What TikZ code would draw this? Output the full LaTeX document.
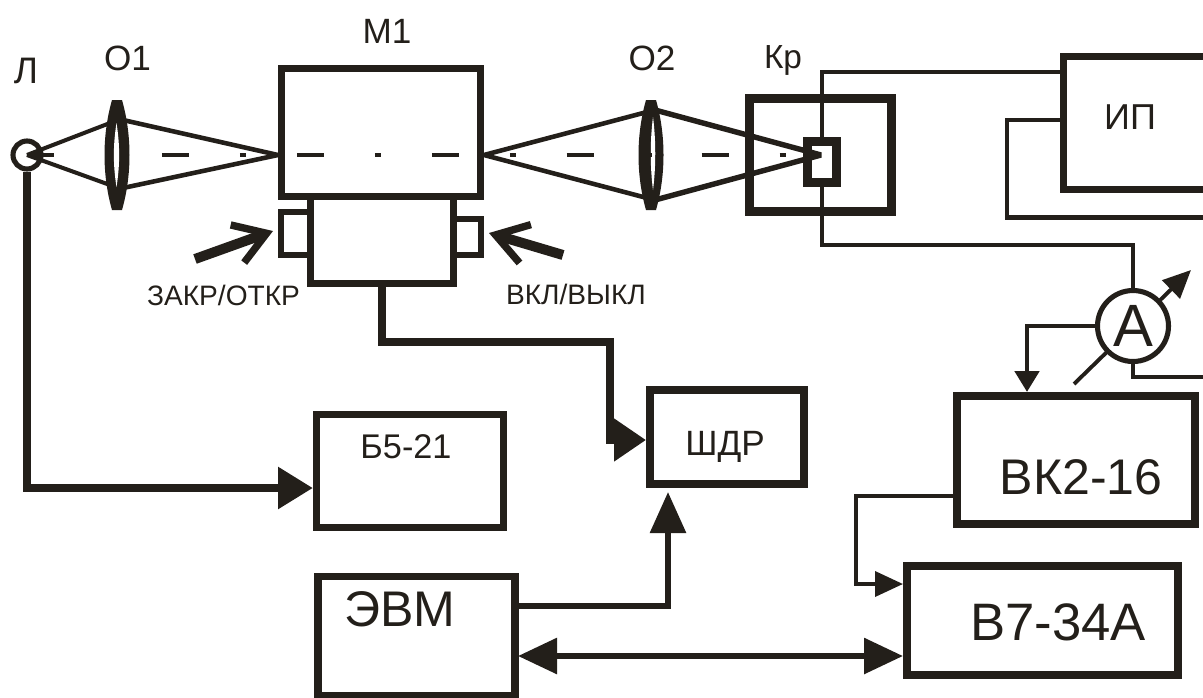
\documentclass[tikz,border=0pt]{standalone}
\usepackage{fontspec}
\setmainfont{Liberation Sans}
\usepackage{xcolor}
\usetikzlibrary{arrows.meta}
\definecolor{ink}{HTML}{231F1A}
\tikzset{
  box/.style n args={2}{draw=ink,line width=4pt,minimum width=#1*0.02cm,minimum height=#2*0.02cm,inner sep=0pt,outer sep=0pt},
  lab/.style={font=\fontsize{#1}{#1}\selectfont,text=ink,anchor=base,inner sep=0pt},
  wire/.style={draw=ink,line width=#1,line join=miter},
  ray/.style={draw=ink,line width=#1,line join=bevel},
  tip/.style n args={2}{arrows={-{Triangle[length=#1*0.02cm,width=#2*0.02cm]}}},
  press/.style={draw=ink,line width=5.7pt,arrows={-{Straight Barb[length=0.62cm,width=0.8cm,line width=4.2pt]}}},
}
\begin{document}
\begin{tikzpicture}[x=0.02cm,y=-0.02cm]
\useasboundingbox (0,0) rectangle (1203,697);
% boxes
\node[box={199}{128}] (m1) at (381,132.5) {};
\node[box={143}{86.5}] (shut) at (382,240) {};
\node[box={29}{43},line width=3.4pt] (shutl) at (295.5,233.5) {};
\node[box={27}{36},line width=3.4pt] (shutr) at (467.5,237) {};
\node[box={142}{113},line width=5.1pt] (kr) at (820.5,155) {};
\node[box={29}{41},line width=5.1pt,fill=white] (det) at (822,162) {};
\node[box={187}{113}] (b5) at (410,471) {};
\node[box={154}{94},line width=4.5pt] (shdr) at (727,437) {};
\node[box={197}{119}] (evm) at (416.5,636) {};
\node[box={238}{128},line width=4.5pt] (vk) at (1076,460) {};
\node[box={271}{109},line width=4.5pt] (v7) at (1042.5,620.5) {};
\draw[draw=ink,line width=4pt] (1203,56.5) -| (1063.5,189.5) -- (1203,189.5);
\node[circle,draw=ink,line width=2.9pt,minimum size=0.56cm,inner sep=0pt] (lamp) at (27,155) {};
% rays and axis
\draw[ray=2.3pt] (lamp.center) -- (110,123);
\draw[ray=2.3pt] (lamp.center) -- (110,185);
\draw[ray=2.6pt] (123,120) -- (278,155) -- (123,188);
\draw[ray=2.6pt] (647,112) -- (484,155) -- (647,198);
\draw[ray=3.1pt] (655,110) -- (821,155) -- (655,200);
\draw[draw=ink,line width=2.3pt,dash pattern=on 15.4pt off 29pt on 3.4pt off 29pt] (27,155) -- (788,155);
% lenses
\fill[ink] (112,100) -- (122,100) .. controls (132,135) and (132,175) .. (122,210) -- (112,210) .. controls (102,175) and (102,135) .. (112,100) -- cycle;
\fill[white] (116.5,123) .. controls (120,145) and (120,165) .. (116.5,187) .. controls (113,165) and (113,145) .. (116.5,123) -- cycle;
\fill[ink] (646,100) -- (656,100) .. controls (666,135) and (666,175) .. (656,210) -- (646,210) .. controls (636,175) and (636,135) .. (646,100) -- cycle;
\fill[white] (653,117) .. controls (656,140) and (656,167) .. (653,190) .. controls (650,167) and (650,140) .. (653,117) -- cycle;
\fill[ink] (646,153) rectangle (652,157);
% push arrows
\coordinate (ztail) at (195,259);
\coordinate (ztip) at (273,231);
\coordinate (vtail) at (563,255);
\coordinate (vtip) at (489,233);
\draw[press] (ztail) -- (ztip);
\draw[press] (vtail) -- (vtip);
% wires
\coordinate (ipa) at (1063,72);
\coordinate (ipb) at (1063,120);
\coordinate (ipc) at (1007,217.5);
\coordinate (ipd) at (1203,217.5);
\coordinate (kra) at (1133,245);
\coordinate (mlow) at (1074,384);
\coordinate (mtip) at (1191,270);
\coordinate (vkin) at (1027,392);
\coordinate (aout) at (1203,377);
\draw[wire=2.3pt] (det.north) |- (ipa);
\draw[wire=2.8pt] (ipb) -| (ipc) -- (ipd);
\draw[wire=2.2pt,tip={28}{25}] (mlow) -- (mtip);
\node[circle,draw=ink,fill=white,line width=2.9pt,minimum size=1.42cm,inner sep=0pt,text=ink,font=\fontsize{34}{34}\selectfont] (amm) at (1133,326) {А};
\draw[wire=2.3pt] (det.south) |- (kra) -- (amm.north);
\draw[wire=2.8pt,tip={21}{24}] (amm.west) -| (vkin);
\draw[wire=2.3pt] (amm.south) |- (aout);
\coordinate (b5in) at (313,488);
\draw[wire=5.1pt,tip={35}{40}] (lamp.south) |- (b5in);
\coordinate (sha) at (610,342);
\coordinate (shin) at (646,440);
\draw[wire=4.5pt,tip={32}{41}] (shut.south) |- (sha) |- (shin);
\coordinate (evma) at (518,606);
\coordinate (shb) at (668,492);
\draw[wire=3.4pt,tip={41}{35}] (evma) -| (shb);
\coordinate (evmb) at (518,656);
\coordinate (v7b) at (903,656);
\draw[wire=3.4pt,arrows={{Triangle[length=0.78cm,width=0.7cm]}-{Triangle[length=0.78cm,width=0.7cm]}}] (evmb) -- (v7b);
\coordinate (vka) at (953,496);
\coordinate (vkb) at (856,584);
\coordinate (v7a) at (903,584);
\draw[wire=2.1pt,tip={28}{25}] (vka) -| (vkb) -- (v7a);
% labels
\node[lab=21] (llamp) at (26,83) {Л};
\node[lab=20] (lo1) at (127.5,70) {О1};
\node[lab=20] (lm1) at (387,43) {М1};
\node[lab=20] (lo2) at (652,70) {О2};
\node[lab=19] (lkr) at (783,68) {Кр};
\node[lab=20.5] (lip) at (1130,129) {ИП};
\node[lab=16] (lzak) at (223.5,305) {ЗАКР/ОТКР};
\node[lab=16] (lvkl) at (576,304) {ВКЛ/ВЫКЛ};
\node[lab=19.5] (lb5) at (406,458) {Б5-21};
\node[lab=20] (lshdr) at (725,455) {ШДР};
\node[lab=28.5] (levm) at (400,626) {ЭВМ};
\node[lab=28.5] (lvk) at (1081,494) {ВК2-16};
\node[lab=30] (lv7) at (1058,640) {В7-34А};
\end{tikzpicture}
\end{document}
